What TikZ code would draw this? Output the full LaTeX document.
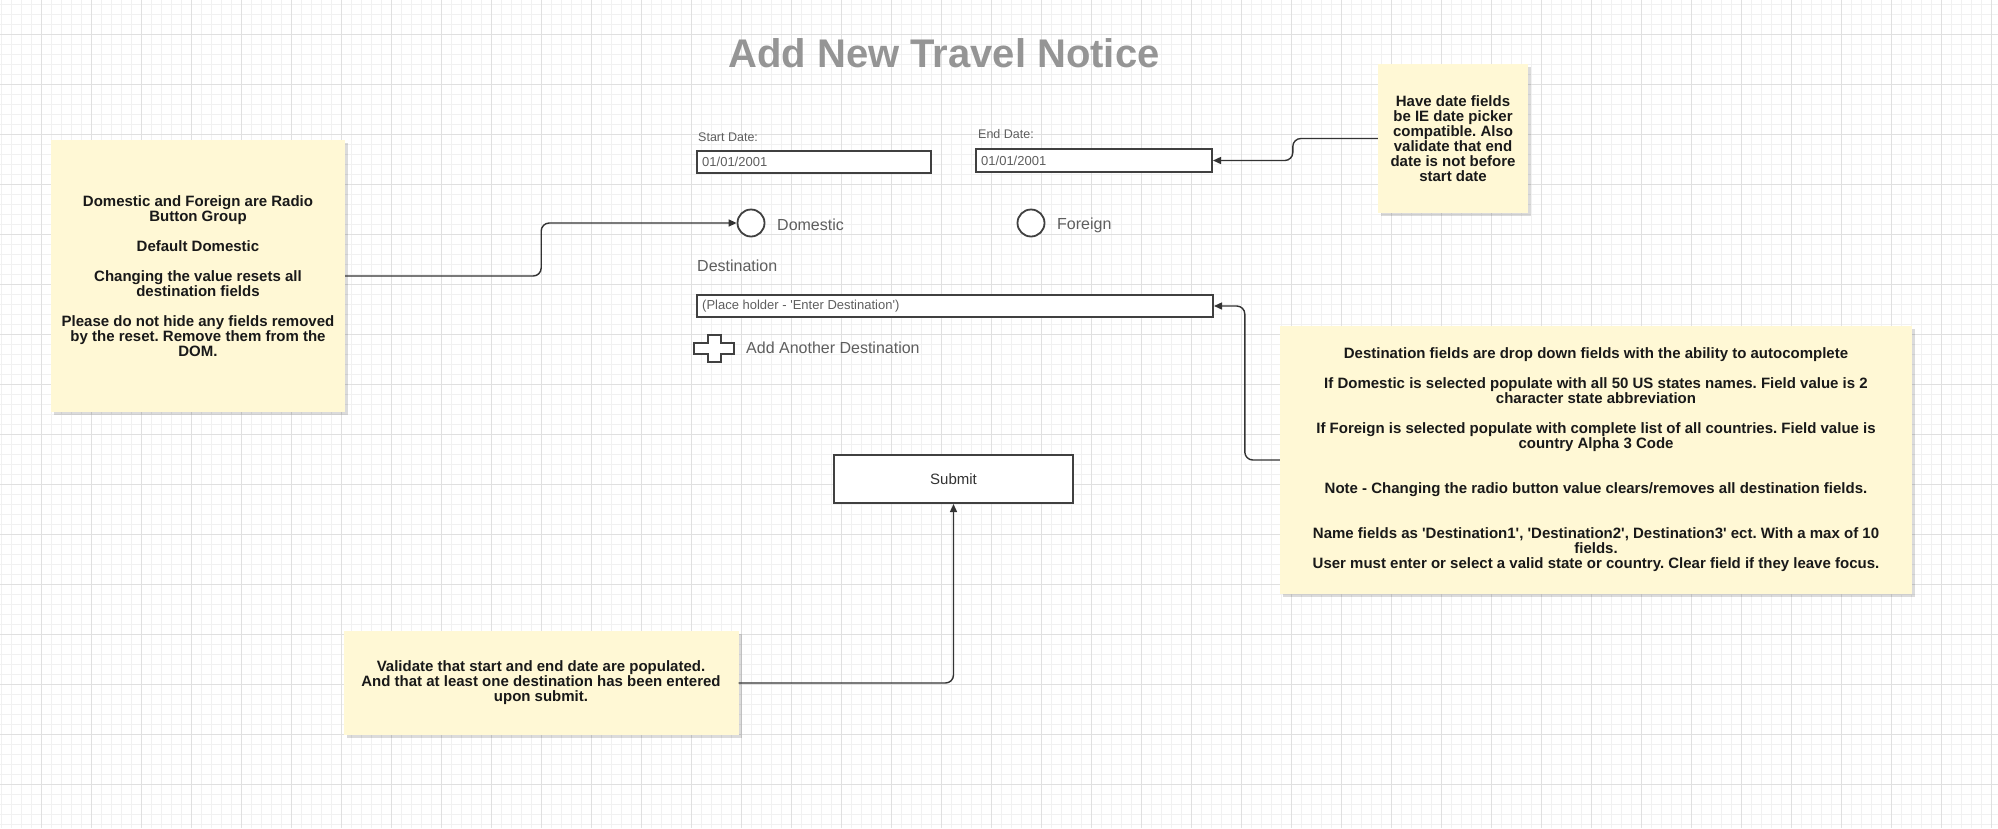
\documentclass[tikz,border=0pt]{standalone}
\usepackage{fontspec}
\newfontfamily\arial{Liberation Sans}
\usetikzlibrary{arrows.meta,shadows}
\definecolor{notefill}{HTML}{FFF8D5}
\definecolor{gridmajor}{HTML}{E0E0E0}
\definecolor{gridminor}{HTML}{F1F1F1}
\definecolor{formtext}{HTML}{5E5E5E}
\definecolor{formline}{HTML}{404040}
\definecolor{titlegray}{HTML}{959595}
\definecolor{conncol}{HTML}{333333}
\frenchspacing
\begin{document}
\begin{tikzpicture}[x=1pt,y=-1pt,
  note/.style={rectangle, fill=notefill, inner sep=0pt, align=center,
    font=\arial\bfseries\fontsize{15}{15}\selectfont, text=black!90,
    drop shadow={shadow xshift=3pt, shadow yshift=-3pt, opacity=0.14, fill=black}},
  field/.style={rectangle, draw=formline, line width=2pt, fill=white, inner sep=0pt},
  radio/.style={circle, draw=formline, line width=1.8pt, fill=white, inner sep=0pt, minimum size=27pt},
  lbl/.style={anchor=west, inner sep=0pt, text=formtext},
  conn/.style={draw=conncol, line width=1.4pt, rounded corners=8pt, -{Triangle[length=8pt,width=7pt]}}
]
\useasboundingbox (0,0) rectangle (1998,828);
\fill[white] (0,0) rectangle (1998,828);
% grid
\foreach \i in {0,...,199} \draw[gridminor, line width=1pt] ({1.7+10*\i},0) -- ({1.7+10*\i},828);
\foreach \i in {0,...,82} \draw[gridminor, line width=1pt] (0,{4+10*\i}) -- (1998,{4+10*\i});
\foreach \i in {0,...,39} \draw[gridmajor, line width=1pt] ({41.7+50*\i},0) -- ({41.7+50*\i},828);
\foreach \i in {0,...,16} \draw[gridmajor, line width=1pt] (0,{34+50*\i}) -- (1998,{34+50*\i});

% title
\node[inner sep=0pt, text=titlegray, font=\arial\bfseries\fontsize{40}{44}\selectfont] (title) at (944,53) {Add New Travel Notice};

% date fields
\node[lbl, font=\arial\fontsize{12.5}{14}\selectfont] (startlbl) at (698,137) {Start Date:};
\node[field, minimum width=234pt, minimum height=22pt] (startbox) at (814,162) {};
\node[lbl, font=\arial\fontsize{13}{15}\selectfont] (starttxt) at (702,162) {01/01/2001};
\node[lbl, font=\arial\fontsize{12.5}{14}\selectfont] (endlbl) at (978,134) {End Date:};
\node[field, minimum width=236pt, minimum height=23pt] (endbox) at (1094,160.5) {};
\node[lbl, font=\arial\fontsize{13}{15}\selectfont] (endtxt) at (981,160.5) {01/01/2001};

% radio buttons
\node[radio] (domc) at (751,223) {};
\node[lbl, font=\arial\fontsize{16}{18}\selectfont] (domtxt) at (777,225) {Domestic};
\node[radio] (forc) at (1031,223) {};
\node[lbl, font=\arial\fontsize{16}{18}\selectfont] (fortxt) at (1057,225) {Foreign};

% destination
\node[lbl, font=\arial\fontsize{16}{18}\selectfont] (destlbl) at (697,266) {Destination};
\node[field, minimum width=516pt, minimum height=22pt] (destbox) at (955,306) {};
\node[lbl, font=\arial\fontsize{13}{15}\selectfont] (desttxt) at (702,306) {(Place holder - 'Enter Destination')};

% add another
\draw[formline, line width=2pt, fill=white] (694,343) -- (708,343) -- (708,335) -- (721,335) -- (721,343) -- (734,343) -- (734,354) -- (721,354) -- (721,362) -- (708,362) -- (708,354) -- (694,354) -- cycle;
\node[lbl, font=\arial\fontsize{16}{18}\selectfont] (addtxt) at (746,348) {Add Another Destination};

% submit
\node[field, minimum width=239pt, minimum height=48pt, text=conncol, font=\arial\fontsize{15}{17}\selectfont] (submit) at (953.5,479) {Submit};

% notes
\node[note, minimum width=294pt, minimum height=272pt] (lnote) at (198,276) {Domestic and Foreign are Radio\\Button Group\\[15pt]Default Domestic\\[15pt]Changing the value resets all\\destination fields\\[15pt]Please do not hide any fields removed\\by the reset. Remove them from the\\DOM.};

\node[note, minimum width=150pt, minimum height=149pt] (dnote) at (1453,138.5) {Have date fields\\be IE date picker\\compatible. Also\\validate that end\\date is not before\\start date};

\node[note, minimum width=632pt, minimum height=268pt] (snote) at (1596,460) {Destination fields are drop down fields with the ability to autocomplete\\[15pt]If Domestic is selected populate with all 50 US states names. Field value is 2\\character state abbreviation\\[15pt]If Foreign is selected populate with complete list of all countries. Field value is\\country Alpha 3 Code\\[30pt]Note - Changing the radio button value clears/removes all destination fields.\\[30pt]Name fields as 'Destination1', 'Destination2', Destination3' ect. With a max of 10\\fields.\\User must enter or select a valid state or country. Clear field if they leave focus.};

\node[note, minimum width=395pt, minimum height=104pt] (vnote) at (541,683) {Validate that start and end date are populated.\\And that at least one destination has been entered\\upon submit.};

% connectors
\draw[conn] (lnote.east) -- ++(196,0) |- (domc.west);
\draw[conn] (dnote.west) -- ++(-85,0) |- (endbox.east);
\draw[conn] (snote.west) -- ++(-35,0) |- (destbox.east);
\draw[conn] (vnote.east) -| (submit.south);
\end{tikzpicture}
\end{document}
